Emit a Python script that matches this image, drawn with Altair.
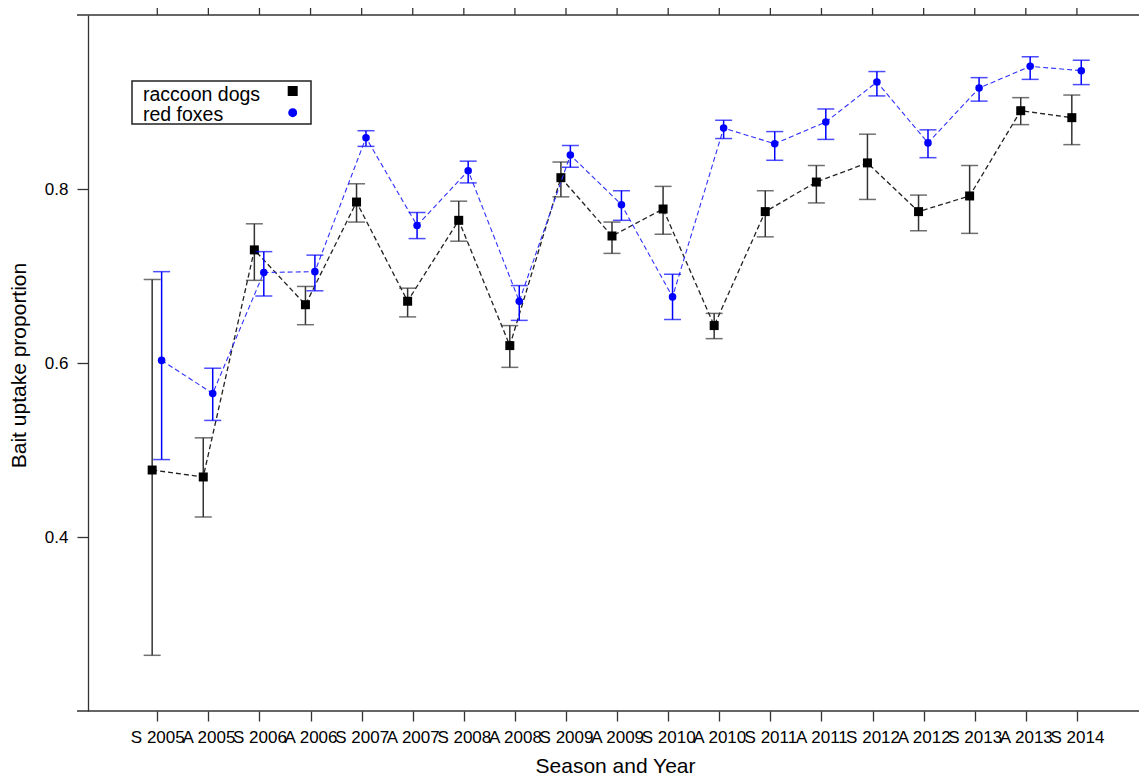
import json
import altair as alt
import pandas as pd

# ---- data ----
seasons = ["S 2005", "A 2005", "S 2006", "A 2006", "S 2007", "A 2007", "S 2008",
           "A 2008", "S 2009", "A 2009", "S 2010", "A 2010", "S 2011", "A 2011",
           "S 2012", "A 2012", "S 2013", "A 2013", "S 2014"]

raccoon_mean = [0.477, 0.469, 0.730, 0.667, 0.785, 0.671, 0.764, 0.620, 0.813, 0.746,
                0.777, 0.643, 0.774, 0.808, 0.830, 0.774, 0.792, 0.890, 0.882]
raccoon_lo = [0.264, 0.423, 0.695, 0.644, 0.762, 0.653, 0.740, 0.595, 0.791, 0.726,
              0.748, 0.628, 0.745, 0.784, 0.788, 0.752, 0.749, 0.874, 0.851]
raccoon_hi = [0.696, 0.514, 0.760, 0.688, 0.806, 0.686, 0.786, 0.643, 0.831, 0.762,
              0.803, 0.657, 0.798, 0.827, 0.863, 0.793, 0.827, 0.905, 0.908]

fox_mean = [0.603, 0.565, 0.704, 0.705, 0.859, 0.758, 0.821, 0.671, 0.839, 0.782,
            0.676, 0.870, 0.852, 0.877, 0.923, 0.853, 0.916, 0.941, 0.936]
fox_lo = [0.489, 0.534, 0.677, 0.683, 0.849, 0.743, 0.807, 0.649, 0.825, 0.764,
          0.650, 0.858, 0.833, 0.857, 0.907, 0.836, 0.901, 0.926, 0.920]
fox_hi = [0.705, 0.594, 0.728, 0.724, 0.867, 0.773, 0.832, 0.689, 0.850, 0.798,
          0.702, 0.879, 0.866, 0.892, 0.935, 0.868, 0.928, 0.952, 0.948]

legend_labels = ["raccoon dogs", "red foxes"]
y_ticks = [0.4, 0.6, 0.8]

# ---- tables ----
idx = list(range(len(seasons)))
raccoon = pd.DataFrame({"idx": idx, "season": seasons, "mean": raccoon_mean,
                        "lo": raccoon_lo, "hi": raccoon_hi})
fox = pd.DataFrame({"idx": idx, "season": seasons, "mean": fox_mean,
                    "lo": fox_lo, "hi": fox_hi})
one = pd.DataFrame({"k": [0]})

FONT = "Liberation Sans"
W, H = 1051, 696
AX = "#333333"
BLUE = "#0000ff"

xscale = alt.Scale(domain=[-1.356, 19.215], nice=False, zero=False)
yscale = alt.Scale(domain=[0.2, 1.0], nice=False, zero=False)

label_expr = json.dumps(seasons) + "[datum.value]"

x_axis = alt.Axis(values=idx, labelExpr=label_expr, grid=False, domain=False,
                  tickSize=10, tickColor=AX, tickWidth=1.3, labelFontSize=17,
                  labelFont=FONT, labelColor="black", labelPadding=8,
                  labelOverlap=False, labelFlush=False, labelBound=False,
                  titleFont=FONT, titleFontSize=21,
                  titleFontWeight="normal", titleColor="black",
                  titleX=527, titleY=61, titleBaseline="alphabetic",
                  titleAlign="center", titleAnchor="middle")
y_axis = alt.Axis(values=y_ticks, format=".1f", grid=False, domain=True,
                  domainColor=AX, domainWidth=1.3, tickSize=11, tickColor=AX,
                  tickWidth=1.3, labelFontSize=17, labelFont=FONT,
                  labelColor="black", labelPadding=9,
                  titleFont=FONT,
                  titleFontSize=21, titleFontWeight="normal", titleColor="black",
                  titleX=-63, titleY=350, titleBaseline="alphabetic",
                  titleAngle=-90, titleAlign="center")

X_TITLE = "Season and Year"
Y_TITLE = "Bait uptake proportion"


def X(field):
    return alt.X(field, scale=xscale, axis=x_axis, title=X_TITLE)


def Y(field):
    return alt.Y(field, scale=yscale, axis=y_axis, title=Y_TITLE)


def series_layers(df, offset, line_color, bar_color, point_color, shape, size,
                  line_width):
    base = alt.Chart(df).transform_calculate(xpos=f"datum.idx + ({offset})")
    line = base.mark_line(color=line_color, strokeDash=[5, 3],
                          strokeWidth=line_width).encode(
        x=X("xpos:Q"), y=Y("mean:Q"))
    bar = base.mark_rule(color=bar_color, strokeWidth=1.5).encode(
        x=X("xpos:Q"), y=Y("lo:Q"), y2="hi:Q")
    cap_lo = base.mark_tick(color=bar_color, orient="horizontal", size=17,
                            thickness=1.5).encode(x=X("xpos:Q"), y=Y("lo:Q"))
    cap_hi = base.mark_tick(color=bar_color, orient="horizontal", size=17,
                            thickness=1.5).encode(x=X("xpos:Q"), y=Y("hi:Q"))
    pts = base.mark_point(shape=shape, filled=True, color=point_color,
                          size=size, opacity=1).encode(
        x=X("xpos:Q"), y=Y("mean:Q"))
    return [line, bar, cap_lo, cap_hi, pts]


# top axis ticks (at the category positions)
top_ticks = alt.Chart(raccoon).mark_rule(color=AX, strokeWidth=1.3).encode(
    x=X("idx:Q"), y=alt.value(-11), y2=alt.value(0))
top_line = alt.Chart(one).mark_rule(color=AX, strokeWidth=1.3).encode(
    x=alt.value(-11), x2=alt.value(W), y=alt.value(0))
bottom_line = alt.Chart(one).mark_rule(color=AX, strokeWidth=1.3).encode(
    x=alt.value(-11), x2=alt.value(W), y=alt.value(H))

rac_layers = series_layers(raccoon, -0.1, "#222222", "#333333", "black",
                           "square", 81, 1.3)
fox_layers = series_layers(fox, 0.085, "#3030ff", BLUE, BLUE, "circle", 57, 1.1)

# legend box
leg_box = alt.Chart(one).mark_rect(fill="white", stroke="#222222",
                                   strokeWidth=1.5).encode(
    x=alt.value(44), x2=alt.value(223), y=alt.value(66), y2=alt.value(109))
leg_t1 = alt.Chart(one).mark_text(align="left", baseline="alphabetic",
                                  font=FONT, fontSize=19.5, color="black").encode(
    x=alt.value(55), y=alt.value(86), text=alt.value(legend_labels[0]))
leg_t2 = alt.Chart(one).mark_text(align="left", baseline="alphabetic",
                                  font=FONT, fontSize=19.5, color="black").encode(
    x=alt.value(55), y=alt.value(105.5), text=alt.value(legend_labels[1]))
leg_s1 = alt.Chart(one).mark_point(shape="square", filled=True, color="black",
                                   size=100, opacity=1).encode(
    x=alt.value(204.7), y=alt.value(76))
leg_s2 = alt.Chart(one).mark_point(shape="circle", filled=True, color=BLUE,
                                   size=80, opacity=1).encode(
    x=alt.value(204.7), y=alt.value(97.7))

chart = alt.layer(
    top_ticks, top_line, bottom_line,
    *rac_layers, *fox_layers,
    leg_box, leg_t1, leg_t2, leg_s1, leg_s2,
).properties(
    width=W, height=H,
    autosize=alt.AutoSizeParams(type="none"),
    padding={"left": 80, "top": 7, "right": 0, "bottom": 65},
    background="white",
).configure_view(stroke=None)

chart.save("out.html", embed_options={"renderer": "svg", "actions": False})
